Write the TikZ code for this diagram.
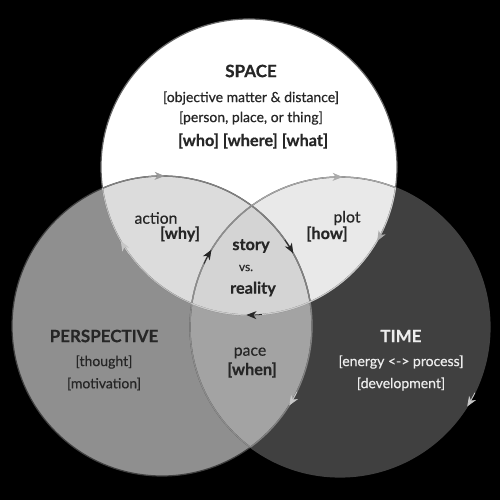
\documentclass[tikz,border=0pt]{standalone}
\usepackage{fontspec}
\setmainfont{Lato}[BoldFeatures={FakeBold=0.5}]
\newfontfamily\medfont{Lato}[FakeBold=0.4]
\usetikzlibrary{arrows.meta}
\definecolor{cL}{HTML}{8F8F8F}
\definecolor{cR}{HTML}{404040}
\definecolor{cTL}{HTML}{DCDCDC}
\definecolor{cTR}{HTML}{E9E9E9}
\definecolor{cLR}{HTML}{A3A3A3}
\definecolor{cC}{HTML}{D4D4D4}
\definecolor{txt}{HTML}{262626}
\tikzset{
  lbl/.style={text=txt, inner sep=0pt, font=\medfont\fontsize{14}{16}\selectfont},
  mlbl/.style={lbl, font=\medfont\fontsize{15.8}{18}\selectfont},
  blbl/.style={lbl, font=\fontsize{16.3}{18}\selectfont\bfseries},
  ttl/.style={lbl, font=\fontsize{17}{19}\selectfont\bfseries},
  arw/.style={line width=0.8pt, -{Stealth[length=10pt,width=8pt,inset=3pt]}},
}
\begin{document}
\begin{tikzpicture}[x=1pt,y=1pt]
\useasboundingbox (0,0) rectangle (500,500);
\fill[black] (0,0) rectangle (500,500);
\coordinate (T) at (249,333);
\coordinate (L) at (162,174);
\coordinate (R) at (340,173);
\def\rT{148}
\def\rL{150}
% fills
\fill[cL] (L) circle[radius=\rL];
\fill[cR] (R) circle[radius=\rL];
\fill[white] (T) circle[radius=\rT];
\begin{scope}
  \clip (R) circle[radius=\rL];
  \fill[cTR] (T) circle[radius=\rT];
\end{scope}
\begin{scope}
  \clip (L) circle[radius=\rL];
  \fill[cTL] (T) circle[radius=\rT];
  \fill[cLR] (R) circle[radius=\rL];
\end{scope}
\begin{scope}
  \clip (L) circle[radius=\rL];
  \clip (R) circle[radius=\rL];
  \fill[cC] (T) circle[radius=\rT];
\end{scope}
% outer rims
\draw[line width=1.2pt, color=black!75] (L) circle[radius=\rL];
\draw[line width=1.2pt, color=black!75] (R) circle[radius=\rL];
\draw[line width=1.2pt, color=black!60] (T) circle[radius=\rT];
% inner arcs
\begin{scope}
  \clip (T) circle[radius=\rT];
  \draw[line width=1.3pt, color=black!50] (L) circle[radius=\rL];
  \draw[line width=1.3pt, color=black!35] (R) circle[radius=\rL];
\end{scope}
\begin{scope}
  \clip (R) circle[radius=\rL];
  \draw[line width=1.3pt, color=black!50] (L) circle[radius=\rL];
\end{scope}
\begin{scope}
  \clip (L) circle[radius=\rL];
  \draw[line width=1.3pt, color=black!45] (R) circle[radius=\rL];
  \draw[line width=1pt, color=black!25] (T) circle[radius=\rT];
\end{scope}
\begin{scope}
  \clip (R) circle[radius=\rL];
  \draw[line width=1pt, color=black!20] (T) circle[radius=\rT];
\end{scope}
% arrows (clockwise)
\draw[arw, color=black!40] (L) ++(95:\rL) arc[start angle=95, end angle=89, radius=\rL];
\draw[arw, color=black!33] (R) ++(95:\rL) arc[start angle=95, end angle=89, radius=\rL];
\draw[arw, color=black!22] (T) ++(216:\rT) arc[start angle=216, end angle=210, radius=\rT];
\draw[arw, color=black!33] (T) ++(-24:\rT) arc[start angle=-24, end angle=-30, radius=\rT];
\draw[arw, color=black!85] (R) ++(155:\rL) arc[start angle=155, end angle=149, radius=\rL];
\draw[arw, color=black!85] (L) ++(35:\rL) arc[start angle=35, end angle=29, radius=\rL];
\draw[arw, color=black!85] (T) ++(275:\rT) arc[start angle=275, end angle=269, radius=\rT];
\draw[arw, color=black!22] (L) ++(-26:\rL) arc[start angle=-26, end angle=-32, radius=\rL];
\draw[arw, color=black!22] (R) ++(-26:\rL) arc[start angle=-26, end angle=-32, radius=\rL];
% texts
\node[ttl] (space) at (251,429) {SPACE};
\node[lbl] (sp1) at (251,402) {[objective matter \& distance]};
\node[lbl] (sp2) at (251,382) {[person, place, or thing]};
\node[blbl] (sp3) at (253,359) {[who] [where] [what]};
\node[ttl] (persp) at (104,164) {PERSPECTIVE};
\node[lbl] (pe1) at (104,138) {[thought]};
\node[lbl] (pe2) at (104,116) {[motivation]};
\node[ttl, text=white!93!black] (time) at (401,164) {TIME};
\node[lbl, text=white!93!black] (ti1) at (401,138) {[energy <-> process]};
\node[lbl, text=white!93!black] (ti2) at (401,116) {[development]};
\node[mlbl] (act) at (156,282) {action};
\node[blbl] (why) at (180,266) {[why]};
\node[mlbl] (plot) at (347,282) {plot};
\node[blbl] (how) at (327,266) {[how]};
\node[blbl] (story) at (251,254) {story};
\node[lbl, font=\medfont\fontsize{12}{14}\selectfont] (vs) at (246,232) {vs.};
\node[blbl] (real) at (253,211) {reality};
\node[mlbl] (pace) at (250,147) {pace};
\node[blbl] (when) at (252,130) {[when]};
\end{tikzpicture}
\end{document}
